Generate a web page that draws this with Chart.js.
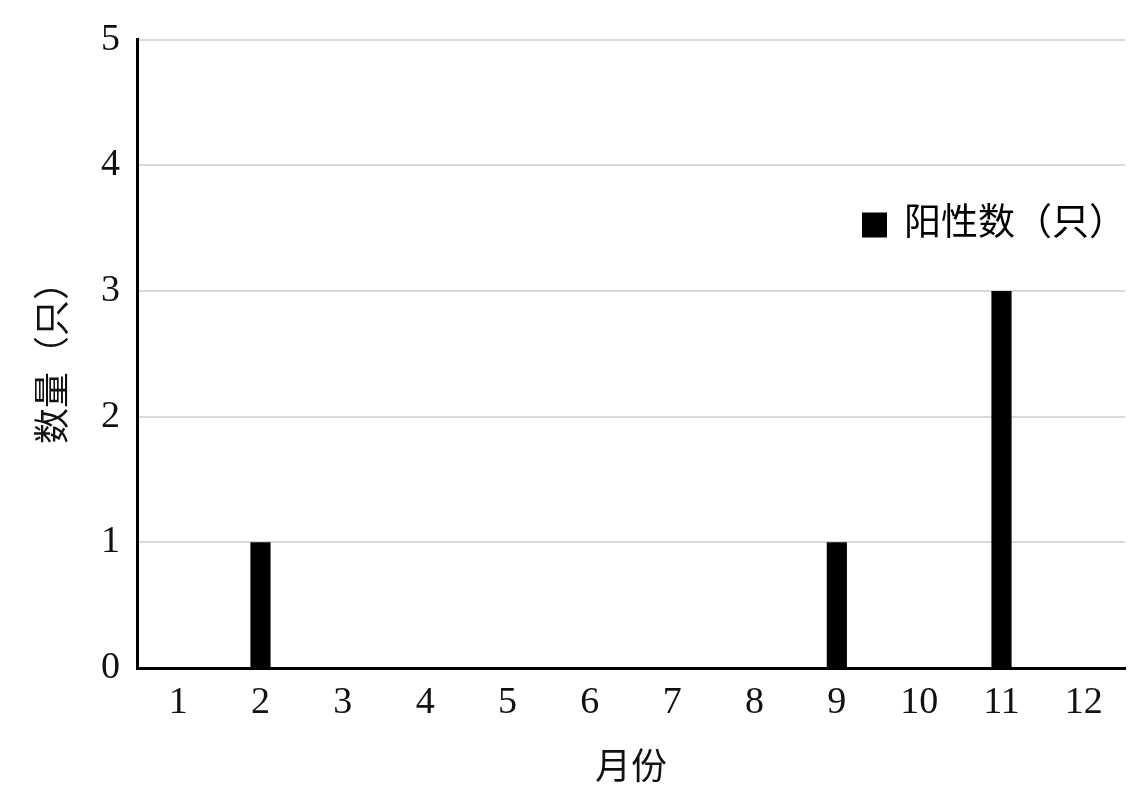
<!DOCTYPE html>
<html>
<head>
<meta charset="utf-8">
<script src="https://cdn.jsdelivr.net/npm/chart.js@4"></script>
<style>
    html, body { margin: 0; padding: 0; background: #fff; }
    #wrap { width: 1135px; height: 788px; }
</style>
</head>
<body>
<div id="wrap"><canvas id="chart1"></canvas></div>
<script>
const months = ['1', '2', '3', '4', '5', '6', '7', '8', '9', '10', '11', '12'];
const positives = [0, 1, 0, 0, 0, 0, 0, 0, 1, 0, 3, 0];
const yMin = 0;
const yMax = 5;
const seriesName = '阳性数（只）';
const xTitle = '月份';
const yTitle = '数量（只）';

const fontFamily = '"Liberation Serif", "Noto Sans CJK SC", serif';

// legend sits inside the plot, right side, between 3 and 4
const inlineLegend = {
    id: 'inlineLegend',
    afterDraw(chart) {
        const { ctx, chartArea, scales } = chart;
        const y = scales.y.getPixelForValue(3.53);
        ctx.save();
        ctx.font = '37px ' + fontFamily;
        const w = ctx.measureText(seriesName).width;
        const xText = chartArea.right + 1 - w;
        ctx.fillStyle = '#000';
        ctx.fillRect(xText - 42, y - 12, 25, 25);
        ctx.textBaseline = 'middle';
        ctx.fillText(seriesName, xText, y + 1);
        ctx.restore();
    }
};

createBarChart('chart1');

function createBarChart(chartId) {
    const ctx = document.getElementById(chartId).getContext('2d');
    new Chart(ctx, {
        type: 'bar',
        data: {
            labels: months,
            datasets: [{
                label: seriesName,
                data: positives,
                backgroundColor: '#000',
                borderWidth: 0,
                barPercentage: 0.245,
                categoryPercentage: 1
            }]
        },
        options: {
            responsive: true,
            maintainAspectRatio: false,
            animation: false,
            layout: {
                autoPadding: false,
                padding: { top: 37, right: 10, left: 0, bottom: 0 }
            },
            plugins: {
                legend: { display: false },
                tooltip: { enabled: false }
            },
            scales: {
                x: {
                    grid: { display: false, drawTicks: false },
                    border: { display: true, color: '#000', width: 3 },
                    ticks: {
                        color: '#111',
                        padding: 12,
                        font: { family: fontFamily, size: 38 }
                    },
                    title: {
                        display: true,
                        text: xTitle,
                        color: '#111',
                        padding: 0,
                        font: { family: fontFamily, size: 36, lineHeight: 1 }
                    },
                    afterFit(scale) { scale.height = 120; }
                },
                y: {
                    min: yMin,
                    max: yMax,
                    grid: { color: '#d9d9d9', lineWidth: 2, drawTicks: false },
                    border: { display: true, color: '#000', width: 3 },
                    ticks: {
                        stepSize: 1,
                        color: '#111',
                        padding: 17,
                        font: { family: fontFamily, size: 38 }
                    },
                    title: {
                        display: true,
                        text: yTitle,
                        color: '#111',
                        padding: { top: 38, bottom: 0 },
                        font: { family: fontFamily, size: 36, lineHeight: 1 }
                    },
                    afterFit(scale) { scale.width = 137; }
                }
            }
        },
        plugins: [inlineLegend]
    });
}
</script>
</body>
</html>
